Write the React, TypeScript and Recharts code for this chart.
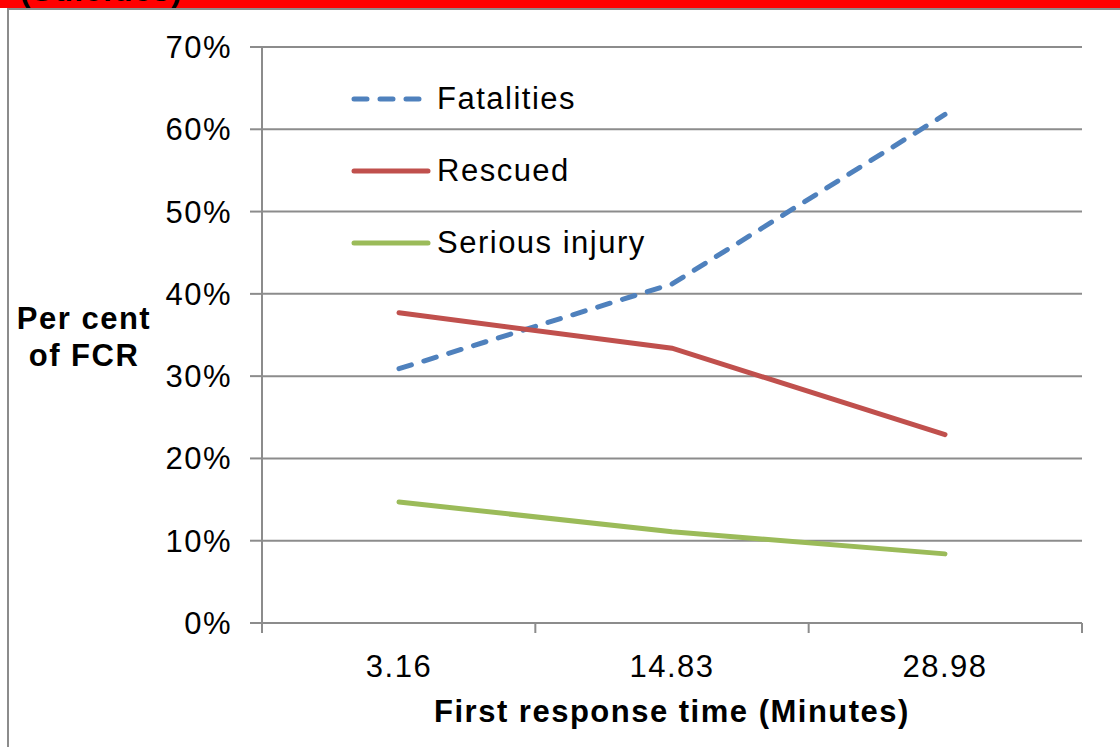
import React from "react";
import {
  LineChart,
  Line,
  XAxis,
  YAxis,
  CartesianGrid,
  Legend,
} from "recharts";

const responseTimes = ["3.16", "14.83", "28.98"];
const fatalities = [0.309, 0.412, 0.618];
const rescued = [0.377, 0.334, 0.229];
const seriousInjury = [0.147, 0.111, 0.084];
const yTicks = [0, 0.1, 0.2, 0.3, 0.4, 0.5, 0.6, 0.7];
const frameTicks = [0, 1, 2, 3];

const FONT = '"Liberation Sans", Arial, sans-serif';
const GRID = "#8c8c8c";
const TEXT = { fontFamily: FONT, fontSize: 31, letterSpacing: 1.5, fill: "#000" };

const data = responseTimes.map((t, i) => ({
  time: t,
  slot: i + 0.5,
  Fatalities: fatalities[i],
  Rescued: rescued[i],
  "Serious injury": seriousInjury[i],
}));

const pct = (v: number) => `${Math.round(v * 100)}%`;

function LegendBox({ payload }: any) {
  return (
    <div
      style={{ fontFamily: FONT, fontSize: 31, letterSpacing: 1.5, color: "#000" }}
    >
      {(payload || []).map((p: any) => (
        <div
          key={p.value}
          style={{ display: "flex", alignItems: "center", height: 72 }}
        >
          <svg width={84} height={12} style={{ marginRight: 3 }}>
            <line
              x1={4}
              y1={6}
              x2={78}
              y2={6}
              stroke={p.color}
              strokeWidth={5}
              strokeLinecap="round"
              strokeDasharray={p.payload?.strokeDasharray}
            />
          </svg>
          <span>{p.value}</span>
        </div>
      ))}
    </div>
  );
}

function YTitle() {
  return (
    <text
      x={84}
      y={329}
      textAnchor="middle"
      fontFamily={FONT}
      fontSize={31}
      letterSpacing={1.5}
      fontWeight="bold"
      fill="#000"
    >
      <tspan x={84}>Per cent</tspan>
      <tspan x={84} dy={37}>
        of FCR
      </tspan>
    </text>
  );
}

export default function App() {
  return (
    <div
      style={{
        position: "absolute",
        left: 0,
        top: 0,
        width: 1120,
        height: 747,
        background: "#fff",
        overflow: "hidden",
      }}
    >
      <div
        style={{
          position: "absolute",
          left: 0,
          top: 0,
          width: 1120,
          height: 8,
          background: "#ff0000",
          overflow: "hidden",
        }}
      >
        <div
          style={{
            position: "absolute",
            left: 20,
            top: -24,
            fontFamily: FONT,
            fontSize: 31,
            letterSpacing: 1.5,
            lineHeight: "30px",
            fontWeight: "bold",
            whiteSpace: "nowrap",
          }}
        >
          (Suicides)
        </div>
      </div>
      <div
        style={{
          position: "absolute",
          left: 7,
          top: 8,
          width: 1300,
          height: 900,
          borderLeft: `2px solid ${GRID}`,
          borderTop: `2px solid ${GRID}`,
        }}
      />
      <div style={{ position: "absolute", left: 0, top: 0 }}>
        <LineChart
          width={1120}
          height={747}
          data={data}
          margin={{ top: 47, right: 38, bottom: 23, left: 162 }}
        >
          <CartesianGrid vertical={false} stroke={GRID} strokeWidth={2} />
          {/* frame axis: line + tick marks at category edges */}
          <XAxis
            dataKey="slot"
            type="number"
            domain={[0, 3]}
            ticks={frameTicks}
            interval={0}
            allowDataOverflow
            height={1}
            stroke={GRID}
            strokeWidth={2}
            tickSize={10}
            tickFormatter={() => ""}
          />
          <XAxis
            xAxisId="time"
            dataKey="time"
            height={100}
            padding={{ left: 137, right: 137 }}
            axisLine={false}
            tickLine={false}
            tickSize={0}
            tickMargin={31}
            tick={TEXT}
            label={{
              value: "First response time (Minutes)",
              position: "insideBottom",
              offset: 2,
              style: { ...TEXT, fontWeight: "bold" },
            }}
          />
          <YAxis
            width={100}
            domain={[0, 0.7]}
            ticks={yTicks}
            tickFormatter={pct}
            stroke={GRID}
            strokeWidth={2}
            tickSize={12}
            tickMargin={18}
            tick={TEXT}
            label={<YTitle />}
          />
          <Legend
            layout="vertical"
            align="center"
            verticalAlign="middle"
            content={<LegendBox />}
            wrapperStyle={{ left: 350, top: 63, width: 320 }}
          />
          <Line
            xAxisId="time"
            dataKey="Fatalities"
            stroke="#4f81bd"
            strokeWidth={5}
            strokeDasharray="13 13"
            strokeLinecap="round"
            dot={false}
            isAnimationActive={false}
          />
          <Line
            xAxisId="time"
            dataKey="Rescued"
            stroke="#c0504d"
            strokeWidth={5}
            strokeLinecap="round"
            dot={false}
            isAnimationActive={false}
          />
          <Line
            xAxisId="time"
            dataKey="Serious injury"
            stroke="#9bbb59"
            strokeWidth={5}
            strokeLinecap="round"
            dot={false}
            isAnimationActive={false}
          />
        </LineChart>
      </div>
    </div>
  );
}
